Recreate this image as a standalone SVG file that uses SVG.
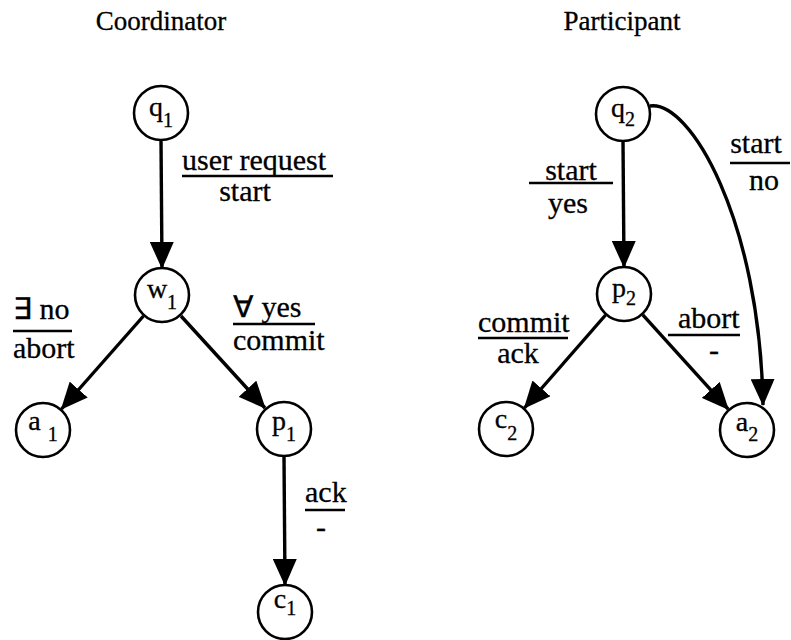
<svg xmlns="http://www.w3.org/2000/svg" width="791" height="640" viewBox="0 0 791 640" font-family="'Liberation Serif', 'Times New Roman', serif">
  <style>
    text { font-family: "Liberation Serif", "Times New Roman", serif; fill: #000; stroke: #000; stroke-width: 0.3; }
    .title { font-size: 27px; text-anchor: middle; }
    .lbl { font-size: 30px; }
    .mid { text-anchor: middle; }
    .state circle { fill: #fff; stroke: #000; stroke-width: 2.6; }
    .state text { font-size: 28px; text-anchor: middle; }
    .sub { font-size: 20px; }
    .edge { fill: none; stroke: #000; stroke-width: 3.4; marker-end: url(#arrow); }
    .bar { stroke: #000; stroke-width: 2.6; }
  </style>
  <defs>
    <marker id="arrow" markerUnits="userSpaceOnUse" markerWidth="27" markerHeight="24" refX="26" refY="12" orient="auto">
      <path d="M0,0 L27,12 L0,24 Z" fill="#000"/>
    </marker>
  </defs>

  <rect width="791" height="640" fill="#fff"/>

  <text class="title" x="161" y="30">Coordinator</text>
  <text class="title" x="622" y="30">Participant</text>

  <!-- transitions -->
  <g id="connectors">
    <path class="edge" d="M161,140 L162,268"/>
    <path class="edge" d="M143.5,316 L61.5,409"/>
    <path class="edge" d="M181,316 L265,408"/>
    <path class="edge" d="M284,456 L285,585"/>
    <path class="edge" d="M623,141 L624,267"/>
    <path class="edge" d="M605.6,315 L524.4,408"/>
    <path class="edge" d="M642.8,314.8 L728.2,409.2"/>
    <path class="edge" d="M650,106 C690,100 760,220 763,405"/>
  </g>

  <!-- transition labels: input over output -->
  <g id="labels">
    <text class="lbl" x="182" y="170">user request</text>
    <line class="bar" x1="182" y1="176" x2="333" y2="176"/>
    <text class="lbl mid" x="245" y="201">start</text>

    <text class="lbl" x="13" y="319">∃ no</text>
    <line class="bar" x1="13" y1="331" x2="72" y2="331"/>
    <text class="lbl" x="13" y="358">abort</text>

    <text class="lbl" x="233" y="317">∀ yes</text>
    <line class="bar" x1="233" y1="324" x2="315" y2="324"/>
    <text class="lbl" x="233" y="350">commit</text>

    <text class="lbl" x="305" y="502">ack</text>
    <line class="bar" x1="305" y1="510" x2="345" y2="510"/>
    <text class="lbl mid" x="321" y="537">-</text>

    <text class="lbl mid" x="571" y="180">start</text>
    <line class="bar" x1="529" y1="183" x2="613" y2="183"/>
    <text class="lbl mid" x="568" y="213">yes</text>

    <text class="lbl mid" x="756" y="153">start</text>
    <line class="bar" x1="730" y1="163" x2="790" y2="163"/>
    <text class="lbl mid" x="764" y="190">no</text>

    <text class="lbl" x="478" y="332">commit</text>
    <line class="bar" x1="478" y1="338" x2="568" y2="338"/>
    <text class="lbl mid" x="518" y="363">ack</text>

    <text class="lbl" x="678" y="328">abort</text>
    <line class="bar" x1="668" y1="335" x2="740" y2="335"/>
    <text class="lbl mid" x="714" y="360">-</text>
  </g>

  <!-- coordinator states -->
  <g id="q1" class="state"><circle cx="161" cy="113" r="27"/><text x="161" y="116">q<tspan class="sub" dy="11">1</tspan></text></g>
  <g id="w1" class="state"><circle cx="162" cy="295" r="27"/><text x="162" y="298">w<tspan class="sub" dy="11">1</tspan></text></g>
  <g id="a1" class="state"><circle cx="43" cy="430" r="27"/><text x="43" y="430">a <tspan class="sub" dy="11">1</tspan></text></g>
  <g id="p1" class="state"><circle cx="284" cy="429" r="27"/><text x="284" y="430">p<tspan class="sub" dy="11">1</tspan></text></g>
  <g id="c1" class="state"><circle cx="285" cy="612" r="27"/><text x="285" y="608">c<tspan class="sub" dy="7">1</tspan></text></g>

  <!-- participant states -->
  <g id="q2" class="state"><circle cx="623" cy="114" r="27"/><text x="623" y="117">q<tspan class="sub" dy="9">2</tspan></text></g>
  <g id="p2" class="state"><circle cx="624" cy="294" r="27"/><text x="624" y="297">p<tspan class="sub" dy="8">2</tspan></text></g>
  <g id="c2" class="state"><circle cx="506" cy="429" r="27"/><text x="506" y="428">c<tspan class="sub" dy="12">2</tspan></text></g>
  <g id="a2" class="state"><circle cx="747" cy="430" r="27"/><text x="747" y="431">a<tspan class="sub" dy="10">2</tspan></text></g>
</svg>
